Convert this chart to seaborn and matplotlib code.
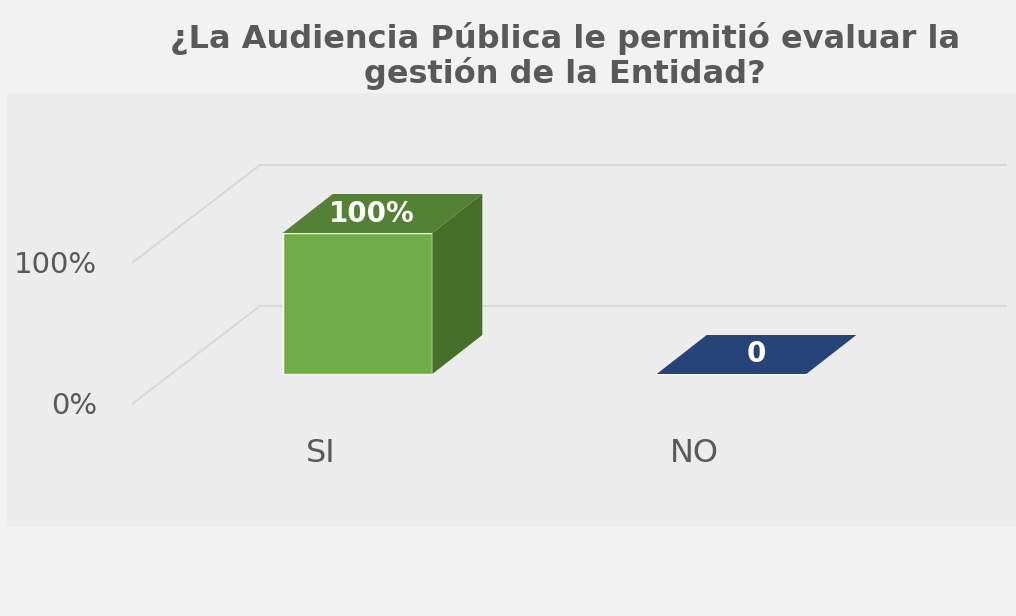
import matplotlib
matplotlib.use("Agg")
import matplotlib.pyplot as plt
from matplotlib.patches import Polygon, Rectangle
import seaborn as sns

categories = ["SI", "NO"]
values = [1.0, 0.0]
value_labels = ["100%", "0"]
ytick_values = [0.0, 1.0]
ytick_labels = ["0%", "100%"]
title = "¿La Audiencia Pública le permitió evaluar la\ngestión de la Entidad?"

front_colors = ["#70ad47", "#264478"]
top_colors = ["#548235", "#264478"]
side_colors = ["#46702a", "#1d3560"]

sns.set_theme(style="white")
plt.rcParams["font.family"] = ["DejaVu Sans"]

fig = plt.figure(figsize=(10.16, 6.16), dpi=100, facecolor="#f2f2f2")
ax = fig.add_axes([0, 0, 1, 1])

# data scale: 374 px per category, 141 px per 100 %
px_x, px_y = 374.0, 141.0
xlim = (-357.5 / px_x, (1016 - 357.5) / px_x)
ylim = ((374 - 616) / px_y, 374 / px_y)


def px(x, y):
    # pixel position -> data position (frame / decoration only)
    return (x - 357.5) / px_x, (374 - y) / px_y


# plot area panel
x0, y0 = px(7, 526)
x1, y1 = px(1016, 93)
ax.add_patch(Rectangle((x0, y0), x1 - x0, y1 - y0, facecolor="#ececec",
                       edgecolor="none", zorder=0))

# 3d geometry of the walls
front_x, front_dy = px(132, 0)[0], -30 / px_y
back_x0, back_x1, back_dy = px(260, 0)[0], px(1007, 0)[0], 68 / px_y
depth_dx, depth_dy = 50 / px_x, 39 / px_y

for v, lab in zip(ytick_values, ytick_labels):
    ax.plot([front_x, back_x0, back_x1], [v + front_dy, v + back_dy, v + back_dy],
            color="#d9d9d9", lw=1.5, zorder=1, solid_capstyle="butt")
    ax.text(front_x - 35 / px_x, v + front_dy - 2 / px_y, lab, ha="right",
            va="center", fontsize=21, color="#595959")

sns.barplot(x=categories, y=values, hue=categories, palette=front_colors,
            width=0.4, legend=False, ax=ax, zorder=3, saturation=1)
ax.set_xlim(*xlim)
ax.set_ylim(*ylim)
ax.axis("off")

bars = [p for p in ax.patches if abs(p.get_width() - 0.4) < 1e-6]
for i, p in enumerate(bars):
    xl, w, h = p.get_x(), p.get_width(), p.get_height()
    xr = xl + w
    top = [(xl, h), (xr, h), (xr + depth_dx, h + depth_dy), (xl + depth_dx, h + depth_dy)]
    ax.add_patch(Polygon(top, closed=True, facecolor=top_colors[i],
                         edgecolor="none", zorder=4))
    if h > 0:
        side = [(xr, 0), (xr + depth_dx, depth_dy), (xr + depth_dx, h + depth_dy), (xr, h)]
        ax.add_patch(Polygon(side, closed=True, facecolor=side_colors[i],
                             edgecolor="none", zorder=4))
    cx = xl + w / 2 + depth_dx / 2
    ax.text(cx - (11 / px_x if h > 0 else 0), h + depth_dy / 2, value_labels[i],
            ha="center", va="center", fontsize=20, fontweight="bold",
            color="white", zorder=5)
    ax.text(xl + w / 2 - 37 / px_x, -79 / px_y, categories[i], ha="center",
            va="center", fontsize=23, color="#595959")

tx, ty = px(565, 56)
ax.text(tx, ty, title, ha="center", va="center", fontsize=23,
        fontweight="bold", color="#595959", linespacing=1.05)

fig.savefig("out.png", dpi=100, facecolor="#f2f2f2")
